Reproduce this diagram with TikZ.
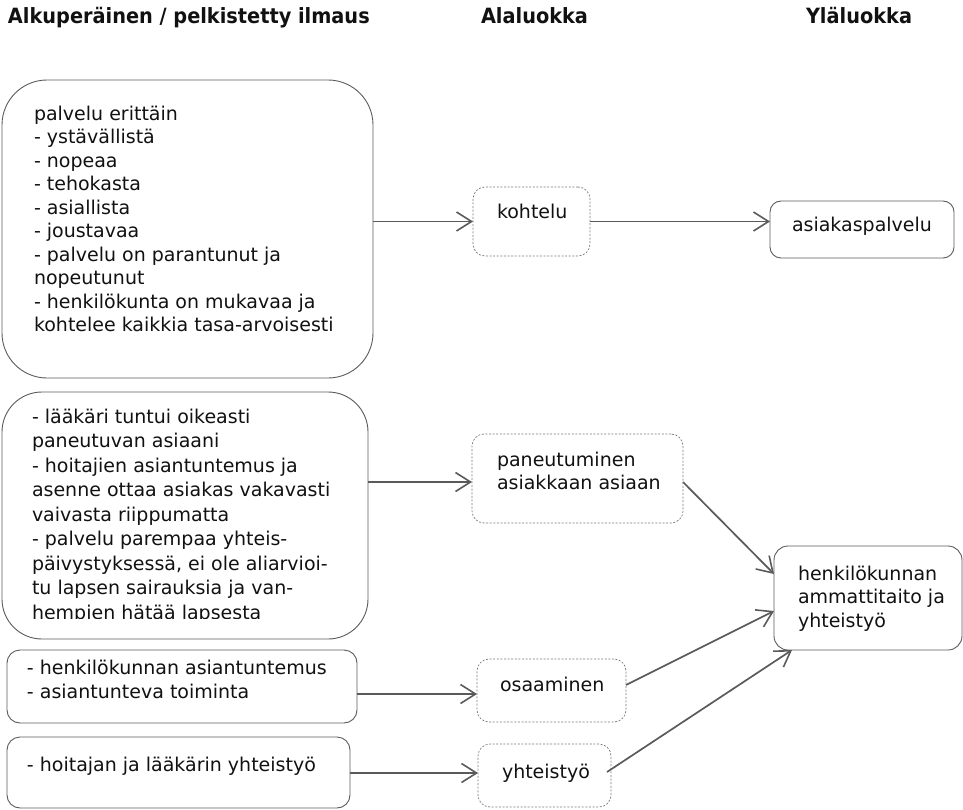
\documentclass[tikz,border=0pt]{standalone}
\usepackage{fontspec}
\setmainfont{DejaVu Sans}
\newfontfamily\headfont{DejaVu Sans}[FakeStretch=0.92]
\usetikzlibrary{arrows.meta}

\definecolor{edgegray}{HTML}{5A5A5A}
\definecolor{dashgray}{HTML}{7A7A7A}
\definecolor{inkblack}{HTML}{111111}

\tikzset{
  every node/.style={inner sep=0pt, outer sep=0pt, text=inkblack},
  bodytext/.style={font=\fontsize{19}{23.5}\selectfont, align=left, anchor=north west},
  widetext/.style={font=\fontsize{19}{24.5}\selectfont, align=left, anchor=north west},
  headtext/.style={font=\headfont\bfseries\fontsize{21}{25}\selectfont, anchor=base west},
  solidbox/.style={draw=edgegray, line width=0.9pt, anchor=north west},
  dashbox/.style={draw=dashgray, line width=0.7pt, dash pattern=on 2pt off 1.6pt,
                  rounded corners=12pt, anchor=north west},
  flow/.style={draw=edgegray, line width=1.7pt,
               -{Straight Barb[length=15pt, width=19pt, line width=1.6pt]}},
}

\begin{document}
\begin{tikzpicture}[x=1pt, y=-1pt]
\useasboundingbox (0,0) rectangle (963,810);

% column headings
\node[headtext] (h1) at (8,24) {Alkuperäinen / pelkistetty ilmaus};
\node[headtext] (h2) at (481,24) {Alaluokka};
\node[headtext] (h3) at (806,24) {Yläluokka};

% original expressions (left column)
\node[solidbox, rounded corners=45pt, minimum width=371pt, minimum height=298pt] (b1) at (2,80) {};
\node[bodytext] (t1) at (34,106) {palvelu erittäin\\- ystävällistä\\- nopeaa\\- tehokasta\\- asiallista\\- joustavaa\\- palvelu on parantunut ja\\nopeutunut\\- henkilökunta on mukavaa ja\\kohtelee kaikkia tasa-arvoisesti};

\node[solidbox, rounded corners=40pt, minimum width=366pt, minimum height=247pt] (b2) at (2,392) {};
\begin{scope}
  \clip (2,392) rectangle (368,618.5);
  \node[widetext] (t2) at (32,409) {- lääkäri tuntui oikeasti\\paneutuvan asiaani\\- hoitajien asiantuntemus ja\\asenne ottaa asiakas vakavasti\\vaivasta riippumatta\\- palvelu parempaa yhteis-\\päivystyksessä, ei ole aliarvioi-\\tu lapsen sairauksia ja van-\\hempien hätää lapsesta};
\end{scope}

\node[solidbox, rounded corners=13pt, minimum width=350pt, minimum height=73pt] (b3) at (7,650) {};
\node[widetext] (t3) at (27,660) {- henkilökunnan asiantuntemus\\- asiantunteva toiminta};

\node[solidbox, rounded corners=13pt, minimum width=343pt, minimum height=71pt] (b4) at (7,737) {};
\node[bodytext] (t4) at (27,757) {- hoitajan ja lääkärin yhteistyö};

% subcategories (middle column)
\node[dashbox, minimum width=117pt, minimum height=69pt] (k) at (473,187) {};
\node[bodytext] (tk) at (497,204) {kohtelu};

\node[dashbox, minimum width=211pt, minimum height=89pt] (p) at (472,434) {};
\node[bodytext] (tp) at (497,452) {paneutuminen\\asiakkaan asiaan};

\node[dashbox, minimum width=149pt, minimum height=63pt] (o) at (477,659) {};
\node[bodytext] (to) at (500,677) {osaaminen};

\node[dashbox, minimum width=133pt, minimum height=63pt] (y) at (478,744) {};
\node[bodytext] (ty) at (502,764) {yhteistyö};

% main categories (right column)
\node[solidbox, rounded corners=11pt, minimum width=184pt, minimum height=57pt] (a) at (770,201) {};
\node[bodytext] (ta) at (792,217) {asiakaspalvelu};

\node[solidbox, rounded corners=14pt, minimum width=188pt, minimum height=104pt] (h) at (774,546) {};
\node[bodytext] (th) at (798,566) {henkilökunnan\\ammattitaito ja\\yhteistyö};

% connectors
\coordinate (kin) at (k.west);
\draw[flow] (b1.east |- kin) -- (kin);
\draw[flow] (k.east) -- (a.west |- k.east);
\coordinate (pin) at ([yshift=-3.5pt]p.west);
\draw[flow] (b2.east |- pin) -- (pin);
\coordinate (oin) at ([yshift=-3.5pt]o.west);
\draw[flow] (b3.east |- oin) -- (oin);
\coordinate (yin) at ([yshift=2.5pt]y.west);
\draw[flow] (b4.east |- yin) -- (yin);

\draw[flow] ([yshift=-3.5pt]p.east) -- ([yshift=-28pt]h.north west);
\draw[flow] ([yshift=5.5pt]o.east) -- ([yshift=-65pt]h.north west);
\draw[flow] ([xshift=-4pt, yshift=3.5pt]y.east) -- ([xshift=18pt]h.south west);
\end{tikzpicture}
\end{document}
